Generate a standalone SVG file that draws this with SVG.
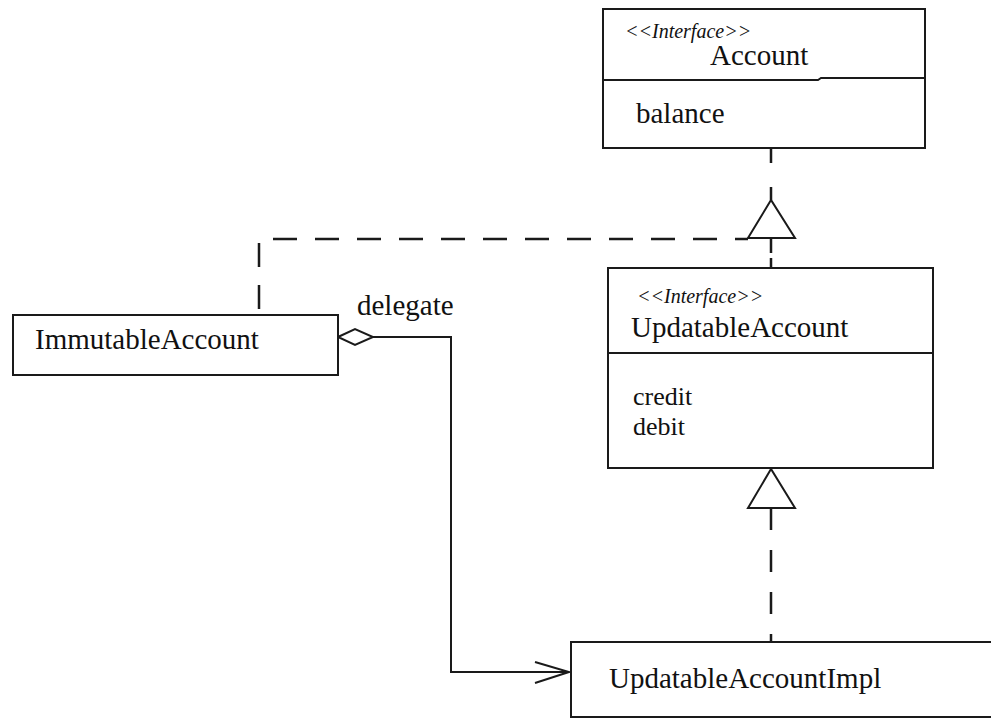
<svg xmlns="http://www.w3.org/2000/svg" width="991" height="719" viewBox="0 0 991 719">
<style>
.box{fill:#fff;stroke:#1a1a1a;stroke-width:2}
.ln{fill:none;stroke:#1a1a1a;stroke-width:2}
.dash{fill:none;stroke:#1a1a1a;stroke-width:2.5;stroke-dasharray:24 18}
.tri{fill:#fff;stroke:#1a1a1a;stroke-width:2;stroke-linejoin:miter}
.t{font-family:"Liberation Serif","Times New Roman",serif;font-size:29px;fill:#111}
.op{font-family:"Liberation Serif","Times New Roman",serif;font-size:26px;fill:#111}
.st{font-family:"Liberation Serif","Times New Roman",serif;font-size:20px;font-style:italic;fill:#111}
</style>
<rect width="991" height="719" fill="#fff"/>
<g id="connectors">
  <path class="dash" d="M771,149 V200" style="stroke-dasharray:14 24 13"/>
  <path class="dash" d="M771,238 V268" style="stroke-dasharray:15 5 10"/>
  <path class="dash" d="M259,315 V239 H748" style="stroke-dasharray:24 18;stroke-dashoffset:-6"/>
  <polygon class="tri" points="771,200 748,238 795,238"/>
  <path class="dash" d="M771,508 V642" style="stroke-dasharray:22 20"/>
  <polygon class="tri" points="771,469 748,508 795,508"/>
  <path class="ln" d="M373,337 H451 V672 H569"/>
  <polygon class="tri" points="338,337 355,329 373,337 355,345"/>
  <path class="ln" d="M535,662 L569,672 L535,683"/>
  <text class="t" x="357" y="315">delegate</text>
</g>
<g id="Account">
  <rect class="box" x="603" y="9" width="322" height="139"/>
  <path class="ln" d="M603,80 H818 L821,78 H925"/>
  <text class="st" x="625" y="38">&lt;&lt;Interface&gt;&gt;</text>
  <text class="t" x="710" y="65">Account</text>
  <text class="t" x="636" y="123">balance</text>
</g>
<g id="UpdatableAccount">
  <rect class="box" x="608" y="268" width="325" height="200"/>
  <line class="ln" x1="608" y1="353" x2="933" y2="353"/>
  <text class="st" x="637" y="303">&lt;&lt;Interface&gt;&gt;</text>
  <text class="t" x="631" y="337">UpdatableAccount</text>
  <text class="op" x="633" y="405">credit</text>
  <text class="op" x="633" y="435">debit</text>
</g>
<g id="ImmutableAccount">
  <rect class="box" x="13" y="315" width="325" height="60"/>
  <text class="t" x="35" y="349">ImmutableAccount</text>
</g>
<g id="UpdatableAccountImpl">
  <rect class="box" x="571" y="642" width="440" height="75"/>
  <text class="t" x="609" y="688">UpdatableAccountImpl</text>
</g>
</svg>
